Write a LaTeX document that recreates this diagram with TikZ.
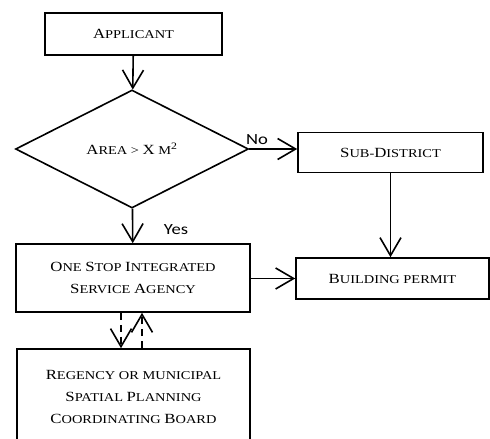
\documentclass[tikz,border=0pt]{standalone}
\usepackage{fontspec}
\newfontfamily\boxfont[FakeStretch=1.2]{Liberation Serif}
\newfontfamily\labelfont[FakeStretch=1.2]{Carlito}
\newcommand{\initcap}[1]{{\fontsize{14}{17}\selectfont#1}}
\usetikzlibrary{shapes.geometric,arrows.meta}

\tikzset{
  box/.style={draw,line width=1.6pt,align=center,inner sep=0pt,
    font=\boxfont\fontsize{12}{22}\selectfont},
  choice/.style={box,diamond,aspect=2},
  flow/.style={line width=1.6pt,
    -{Straight Barb[length=18pt,width=21pt,line width=1.6pt]}},
  lbl/.style={font=\labelfont\fontsize{15.5}{18}\selectfont,inner sep=0pt}
}

\begin{document}
\begin{tikzpicture}[x=1pt,y=-1pt]

\useasboundingbox (0,0) rectangle (490,439);

\node[box,minimum width=177pt,minimum height=42pt] (applicant) at (133.5,34) {\initcap{A}PPLICANT};
\node[choice,minimum width=233pt,minimum height=118pt] (area) at (132,149) {\initcap{A}REA > \initcap{X} M{\fontsize{14}{17}\selectfont\textsuperscript{2}}};
\node[box,minimum width=185pt,minimum height=40pt] (subdistrict) at (390.5,152.5) {\initcap{S}UB-\initcap{D}ISTRICT};
\node[box,minimum width=234pt,minimum height=68pt] (onestop) at (133,278) {\initcap{O}NE \initcap{S}TOP \initcap{I}NTEGRATED\\\initcap{S}ERVICE \initcap{A}GENCY};
\node[box,minimum width=193pt,minimum height=41pt] (permit) at (392.5,278.5) {\initcap{B}UILDING PERMIT};
\node[box,minimum width=233pt,minimum height=96pt] (board) at (133.5,397) {\initcap{R}EGENCY OR MUNICIPAL\\\initcap{S}PATIAL \initcap{P}LANNING\\\initcap{C}OORDINATING \initcap{B}OARD};

\node[lbl] (no) at (257,140) {No};
\node[lbl] (yes) at (176,230) {Yes};

\draw[flow] (applicant) -- (area);
\draw[flow] (area.east) -- (subdistrict.west |- area.east);
\draw[flow] (area) -- (onestop);
\draw[flow] (subdistrict.south) -- (subdistrict.south |- permit.north);
\draw[flow] (onestop.east |- permit.west) -- (permit.west);
\draw[flow,dash pattern=on 7pt off 5pt] ([xshift=-12pt]onestop.south) -- ([xshift=-12pt]onestop.south |- board.north);
\draw[flow,dash pattern=on 7pt off 5pt] ([xshift=9pt]onestop.south |- board.north) -- ([xshift=9pt]onestop.south);

\end{tikzpicture}
\end{document}
